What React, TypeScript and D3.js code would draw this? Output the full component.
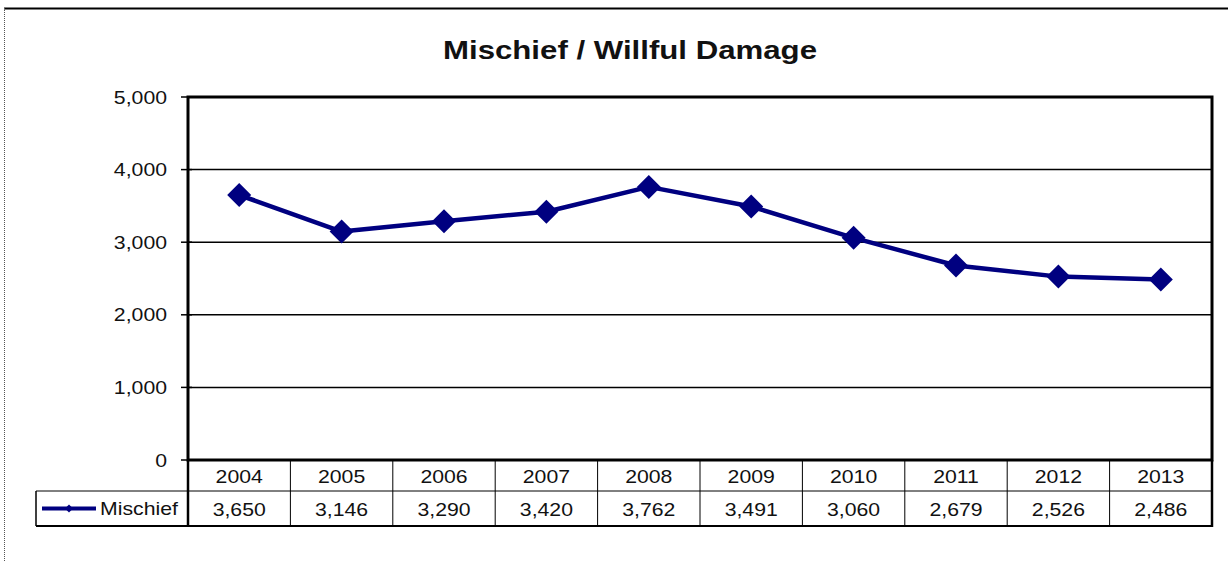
import React from "react";
import * as d3 from "d3";

const years = ["2004", "2005", "2006", "2007", "2008", "2009", "2010", "2011", "2012", "2013"];
const mischief = [3650, 3146, 3290, 3420, 3762, 3491, 3060, 2679, 2526, 2486];
const yTicks = [0, 1000, 2000, 3000, 4000, 5000];
const seriesName = "Mischief";
const title = "Mischief / Willful Damage";

const W = 1228, H = 561;
const left = 188, right = 1212, top = 97, bottom = 460;
const row1 = 491, row2 = 526, legendLeft = 36;
const navy = "#000080";
const FONT = "'Liberation Sans', Arial, sans-serif";
const SX = 1.13;

function T({ x, y, children, anchor = "middle", size = 18.8, weight = "normal", sx = SX }: any) {
  return (
    <text
      transform={`translate(${x},${y}) scale(${sx},1)`}
      textAnchor={anchor}
      dominantBaseline="central"
      fontFamily={FONT}
      fontSize={size}
      fontWeight={weight}
      fill="#111"
    >
      {children}
    </text>
  );
}

export default function App() {
  const x = d3.scaleBand<string>().domain(years).range([left, right]);
  const y = d3.scaleLinear().domain([0, 5000]).range([bottom, top]);
  const fmt = d3.format(",");
  const line = d3
    .line<number>()
    .x((_, i) => (x(years[i]) as number) + x.bandwidth() / 2)
    .y((d) => y(d));
  const r = 12;
  return (
    <svg width={W} height={H} style={{ position: "absolute", left: 0, top: 0 }}>
      <rect x={0} y={0} width={W} height={H} fill="#fff" />
      {/* outer frame */}
      <line x1={4} x2={W} y1={8.5} y2={8.5} stroke="#000" strokeWidth={2} />
      <line x1={4.5} x2={4.5} y1={8} y2={H} stroke="#555" strokeWidth={1} strokeDasharray="1,1" />

      <T x={630} y={50} size={26} weight="bold" sx={1.2}>{title}</T>

      {/* gridlines */}
      {yTicks.filter((t) => t > 0 && t < 5000).map((t) => (
        <line key={t} x1={left} x2={right} y1={y(t)} y2={y(t)} stroke="#000" strokeWidth={1.5} />
      ))}
      {/* y ticks & labels */}
      {yTicks.map((t) => (
        <g key={"t" + t}>
          <line x1={181} x2={left + 4} y1={y(t)} y2={y(t)} stroke="#000" strokeWidth={1.5} />
          <T x={167} y={y(t)} anchor="end">{fmt(t)}</T>
        </g>
      ))}
      {/* plot border */}
      <rect x={left} y={top} width={right - left} height={bottom - top} fill="none" stroke="#000" strokeWidth={3} />

      {/* series */}
      <path d={line(mischief) || ""} fill="none" stroke={navy} strokeWidth={4.5} strokeLinejoin="round" />
      {mischief.map((v, i) => {
        const cx = (x(years[i]) as number) + x.bandwidth() / 2;
        const cy = y(v);
        return (
          <path key={i} d={`M${cx},${cy - r}L${cx + r},${cy}L${cx},${cy + r}L${cx - r},${cy}Z`} fill={navy} />
        );
      })}

      {/* data table */}
      {years.map((yr, i) => {
        const bx = x(yr) as number;
        return (
          <g key={yr}>
            {i > 0 && <line x1={bx} x2={bx} y1={bottom} y2={row2} stroke="#000" strokeWidth={1} />}
            <T x={bx + x.bandwidth() / 2} y={476}>{yr}</T>
            <T x={bx + x.bandwidth() / 2} y={509}>{fmt(mischief[i])}</T>
          </g>
        );
      })}
      <line x1={legendLeft} x2={right} y1={row1} y2={row1} stroke="#000" strokeWidth={1} />
      <line x1={legendLeft} x2={right + 1} y1={row2} y2={row2} stroke="#000" strokeWidth={2} />
      <line x1={legendLeft} x2={legendLeft} y1={row1} y2={row2} stroke="#000" strokeWidth={1.5} />
      <line x1={left} x2={left} y1={bottom} y2={row2 + 1} stroke="#000" strokeWidth={2.5} />
      <line x1={right} x2={right} y1={bottom} y2={row2 + 1} stroke="#000" strokeWidth={2.5} />
      {/* legend key */}
      <line x1={42} x2={96} y1={508.5} y2={508.5} stroke={navy} strokeWidth={4} />
      <path d={`M69,${508.5 - 4}L73,508.5L69,${508.5 + 4}L65,508.5Z`} fill={navy} />
      <T x={100} y={508} anchor="start">{seriesName}</T>
    </svg>
  );
}
